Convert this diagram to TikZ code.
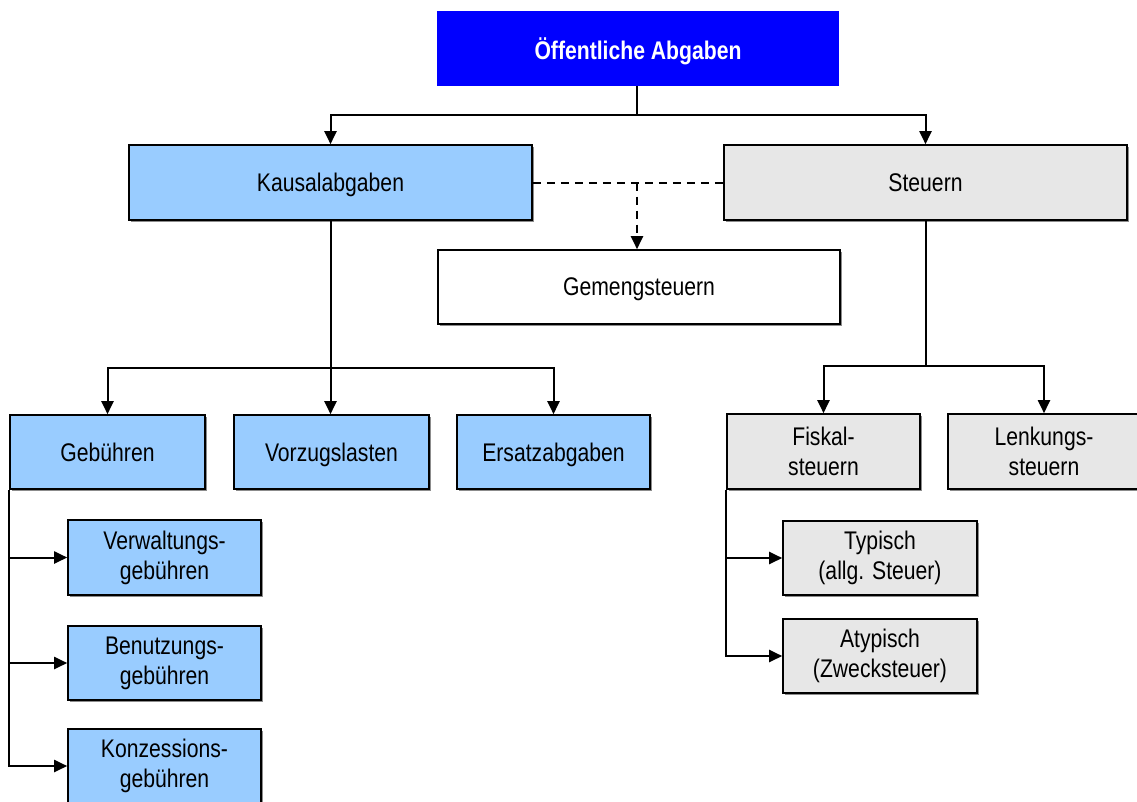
\documentclass[tikz,border=0pt]{standalone}
\usepackage{fontspec}
\setmainfont{Liberation Sans}[FakeStretch=0.83]
\usetikzlibrary{arrows.meta,shadows}
\definecolor{topblue}{HTML}{0000FF}
\definecolor{lightblue}{HTML}{99CCFF}
\definecolor{lightgray}{HTML}{E7E7E7}
\begin{document}
\begin{tikzpicture}[x=1pt,y=-1pt,
  box/.style={draw=black, line width=1.6pt, inner sep=0pt, align=center,
    font=\fontsize{25.5}{30}\selectfont,
    drop shadow={shadow xshift=2pt, shadow yshift=-2pt, fill=black, opacity=0.45}},
  oneline/.style={text depth=0pt},
  bluebox/.style={box, fill=lightblue},
  graybox/.style={box, fill=lightgray},
  whitebox/.style={box, fill=white},
  conn/.style={line width=2pt, draw=black},
  arr/.style={conn, -{Triangle[length=13pt,width=12pt]}},
  dconn/.style={conn, dash pattern=on 8pt off 6pt}
]
\useasboundingbox (0,0) rectangle (1137,801);
\fill[white] (0,0) rectangle (1137,801);

% nodes: center and size from pixel boxes
\node[fill=topblue, inner sep=0pt, minimum width=402pt, minimum height=75pt, text depth=0pt,
      text=white, font=\fontsize{25.5}{30}\selectfont\bfseries] (top) at (638,48.5) {Öffentliche Abgaben};
\node[bluebox, oneline, minimum width=403pt, minimum height=75pt] (kausal) at (330.5,182.5) {Kausalabgaben};
\node[graybox, oneline, minimum width=403pt, minimum height=75pt] (steuern) at (925.5,182.5) {Steuern};
\node[whitebox, oneline, minimum width=402pt, minimum height=74pt] (gemeng) at (639,287) {Gemengsteuern};

\node[bluebox, oneline, minimum width=195pt, minimum height=74pt] (gebuehren) at (107.5,452) {Gebühren};
\node[bluebox, oneline, minimum width=195pt, minimum height=74pt] (vorzug) at (331.5,452) {Vorzugslasten};
\node[bluebox, oneline, minimum width=193pt, minimum height=74pt] (ersatz) at (553.5,452) {Ersatzabgaben};

\node[graybox, minimum width=193pt, minimum height=75pt] (fiskal) at (823.5,451.5) {Fiskal-\\steuern};
\node[graybox, minimum width=192pt, minimum height=75pt] (lenk) at (1044,451.5) {Lenkungs-\\steuern};

\node[bluebox, minimum width=193pt, minimum height=75pt] (verw) at (164.5,557.5) {Verwaltungs-\\gebühren};
\node[bluebox, minimum width=193pt, minimum height=74pt] (benutz) at (164.5,663) {Benutzungs-\\gebühren};
\node[bluebox, minimum width=193pt, minimum height=74pt] (konz) at (164.5,766) {Konzessions-\\gebühren};

\node[graybox, minimum width=194pt, minimum height=74pt] (typ) at (880,558) {Typisch\\(allg. Steuer)};
\node[graybox, minimum width=194pt, minimum height=74pt] (atyp) at (880,656) {Atypisch\\(Zwecksteuer)};

% junctions
\coordinate (j1) at (637,115);
\coordinate (jd) at (637,182.5);
\coordinate (j2) at (330.5,368);
\coordinate (j3) at (925.5,366);

% connectors
\draw[conn] (top.south -| j1) -- (j1);
\draw[arr] (j1) -| (kausal.north);
\draw[arr] (j1) -| (steuern.north);

\draw[dconn] (kausal.east) -- (steuern.west);
\draw[dconn, -{Triangle[length=13pt,width=12pt]}] (jd) -- (jd |- gemeng.north);

\draw[conn] (kausal.south) -- (j2);
\draw[arr] (j2) -- (j2 |- vorzug.north);
\draw[arr] (j2) -| (gebuehren.north);
\draw[arr] (j2) -| (ersatz.north);

\draw[conn] (steuern.south) -- (j3);
\draw[arr] (j3) -| (fiskal.north);
\draw[arr] (j3) -| (lenk.north);

\draw[arr] (gebuehren.south west) |- (verw.west);
\draw[arr] (gebuehren.south west) |- (benutz.west);
\draw[arr] (gebuehren.south west) |- (konz.west);

\draw[arr] (fiskal.south west) |- (typ.west);
\draw[arr] (fiskal.south west) |- (atyp.west);
\end{tikzpicture}
\end{document}
